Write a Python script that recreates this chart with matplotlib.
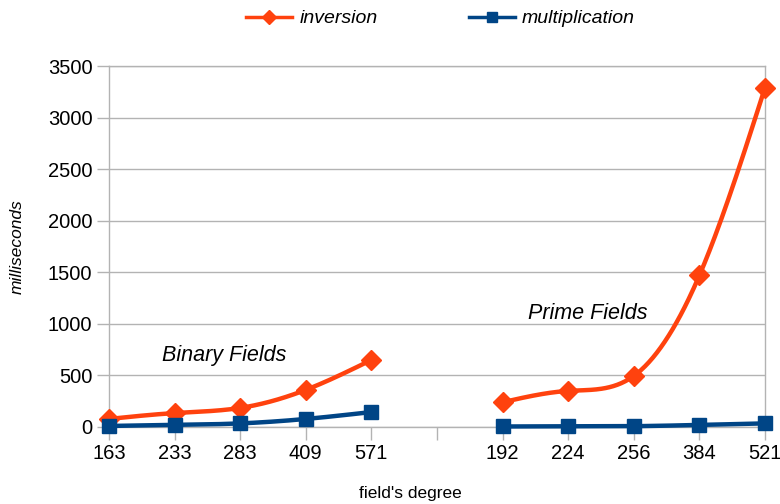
import numpy as np
import matplotlib.pyplot as plt

plt.rcParams['font.family'] = ['Liberation Sans', 'DejaVu Sans']

# categories (the empty slot in the middle separates the two groups)
binary_degrees = ['163', '233', '283', '409', '571']
prime_degrees = ['192', '224', '256', '384', '521']

inversion_binary = [78, 135, 185, 360, 650]
inversion_prime = [240, 350, 495, 1470, 3290]
mult_binary = [10, 20, 35, 78, 145]
mult_prime = [5, 6, 8, 20, 35]

INV_COLOR = '#ff420e'
MUL_COLOR = '#004586'


def natural_spline(x, y, n=200):
    # plain natural cubic spline, only used to draw the smooth line between marks
    x = np.asarray(x, float)
    y = np.asarray(y, float)
    k = len(x)
    h = np.diff(x)
    A = np.zeros((k, k))
    b = np.zeros(k)
    A[0, 0] = A[-1, -1] = 1
    for i in range(1, k - 1):
        A[i, i - 1] = h[i - 1]
        A[i, i] = 2 * (h[i - 1] + h[i])
        A[i, i + 1] = h[i]
        b[i] = 6 * ((y[i + 1] - y[i]) / h[i] - (y[i] - y[i - 1]) / h[i - 1])
    M = np.linalg.solve(A, b)
    xs = np.linspace(x[0], x[-1], n)
    idx = np.clip(np.searchsorted(x, xs) - 1, 0, k - 2)
    x0, x1 = x[idx], x[idx + 1]
    hh = x1 - x0
    t0, t1 = x1 - xs, xs - x0
    ys = (M[idx] * t0 ** 3 + M[idx + 1] * t1 ** 3) / (6 * hh) \
        + (y[idx] / hh - M[idx] * hh / 6) * t0 \
        + (y[idx + 1] / hh - M[idx + 1] * hh / 6) * t1
    return xs, ys


fig = plt.figure(figsize=(7.8, 5.04), dpi=100)
ax = fig.add_axes([109 / 780, 1 - 427 / 504, 656 / 780, 361 / 504])

xb = np.arange(len(binary_degrees))
xp = np.arange(len(prime_degrees)) + len(binary_degrees) + 1

for xs, ys, color, marker, ms, label in [
        (xb, inversion_binary, INV_COLOR, 'D', 10, 'inversion'),
        (xp, inversion_prime, INV_COLOR, 'D', 10, None),
        (xb, mult_binary, MUL_COLOR, 's', 10.5, 'multiplication'),
        (xp, mult_prime, MUL_COLOR, 's', 10.5, None)]:
    sx, sy = natural_spline(xs, ys)
    ax.plot(sx, sy, color=color, lw=3.2, solid_capstyle='round', zorder=3, clip_on=False)
    ax.plot(xs, ys, ls='none', marker=marker, ms=ms, color=color, zorder=4, clip_on=False)
    if label:
        ax.plot([], [], color=color, lw=2.5, marker=marker, ms=ms * 0.75, label=label)

ax.set_xlim(0, 10)
ax.set_ylim(0, 3500)
ax.set_yticks(np.arange(0, 3501, 500))
ax.set_xticks(np.arange(11))
ax.set_xticklabels(binary_degrees + [''] + prime_degrees)
ax.grid(axis='y', color='#b3b3b3', lw=1)
ax.set_axisbelow(True)
for s in ax.spines.values():
    s.set_color('#b3b3b3')
    s.set_linewidth(1)
ax.tick_params(axis='both', colors='#b3b3b3', labelcolor='black', labelsize=14.5,
               length=9, width=1)
ax.tick_params(axis='x', pad=3)
ax.tick_params(axis='y', pad=3)

ax.set_ylabel('milliseconds', fontsize=12.5, style='italic', va='center')
ax.yaxis.set_label_coords(-0.14, 0.5)
ax.set_xlabel("field's degree", fontsize=12.5, va='center')
ax.xaxis.set_label_coords(0.46, -0.183)

ax.text(0.81, 698, 'Binary Fields', fontsize=15.5, style='italic', ha='left', va='center')
ax.text(6.39, 1096, 'Prime Fields', fontsize=15.5, style='italic', ha='left', va='center')

fig.legend(loc='center', bbox_to_anchor=(0.565, 0.963), ncol=2, frameon=False,
           prop={'size': 14, 'style': 'italic'}, handlelength=2.36, columnspacing=4.7,
           handletextpad=0.36)

fig.savefig('out.png', dpi=100)
